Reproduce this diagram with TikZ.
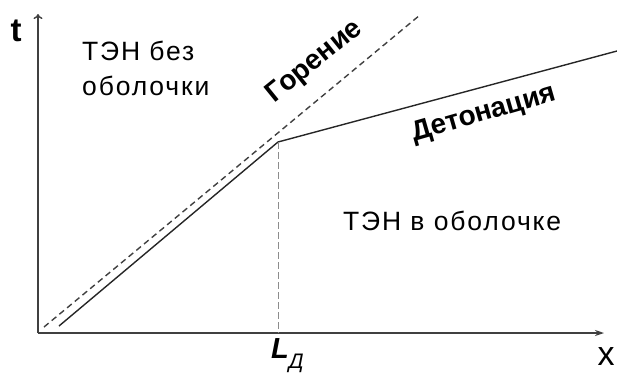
\documentclass[tikz,border=0pt]{standalone}
\usepackage{fontspec}
\setmainfont{Liberation Sans}
\newfontfamily\spaced[LetterSpace=7]{Liberation Sans}
\usetikzlibrary{arrows.meta}

\begin{document}
\begin{tikzpicture}[x=1pt,y=-1pt,
  axis/.style={draw=black!75,line width=1.4pt},
  front/.style={draw=black!85,line width=1.4pt},
  burn/.style={draw=black!75,line width=1.4pt,dash pattern=on 6pt off 4pt},
  drop/.style={draw=black!45,line width=0.8pt,dash pattern=on 7pt off 3pt},
  tag/.style={inner sep=0pt,font=\spaced\fontsize{26.5}{28}\selectfont},
  zone/.style={inner sep=0pt,font=\bfseries\fontsize{28}{30}\selectfont}]
  \useasboundingbox (0,0) rectangle (617,378);
  % axes
  \coordinate (O) at (38,333);
  \coordinate (xe) at (604,333);
  \coordinate (ye) at (38,14);
  \draw[axis,-{Stealth[length=9pt,width=6pt]}] (O) -- (xe);
  \draw[axis,-{To[length=5pt,width=9pt]}] (O) -- (ye);
  \node[inner sep=0pt,font=\bfseries\fontsize{33}{35}\selectfont] (t) at (16,31) {t};
  \node[inner sep=0pt,font=\fontsize{34}{36}\selectfont] (x) at (606,357) {x};
  % combustion and detonation
  \coordinate (b0) at (44,327);
  \coordinate (b1) at (420,15);
  \coordinate (d0) at (59,326);
  \coordinate (K) at (278,142);
  \coordinate (d1) at (617,51);
  \coordinate (Kx) at (278,333);
  \draw[burn] (b0) -- (b1);
  \draw[front] (d0) -- (K) -- (d1);
  \draw[drop] (K) -- (Kx);
  \node[inner sep=0pt,anchor=base west,font=\fontsize{29}{30}\selectfont\bfseries\itshape] (LD) at (271,358)
    {L\raisebox{-10pt}{\mdseries\fontsize{21}{21}\selectfont Д}};
  % labels
  \node[zone,rotate=39] (gor) at (315,62) {Горение};
  \node[zone,rotate=16] (det) at (484,114) {Детонация};
  \node[tag,anchor=base west] (bare1) at (82,60) {ТЭН без};
  \node[tag,anchor=base west] (bare2) at (82,95) {оболочки};
  \node[tag,anchor=base west] (shell) at (343,230) {ТЭН в оболочке};
\end{tikzpicture}
\end{document}
